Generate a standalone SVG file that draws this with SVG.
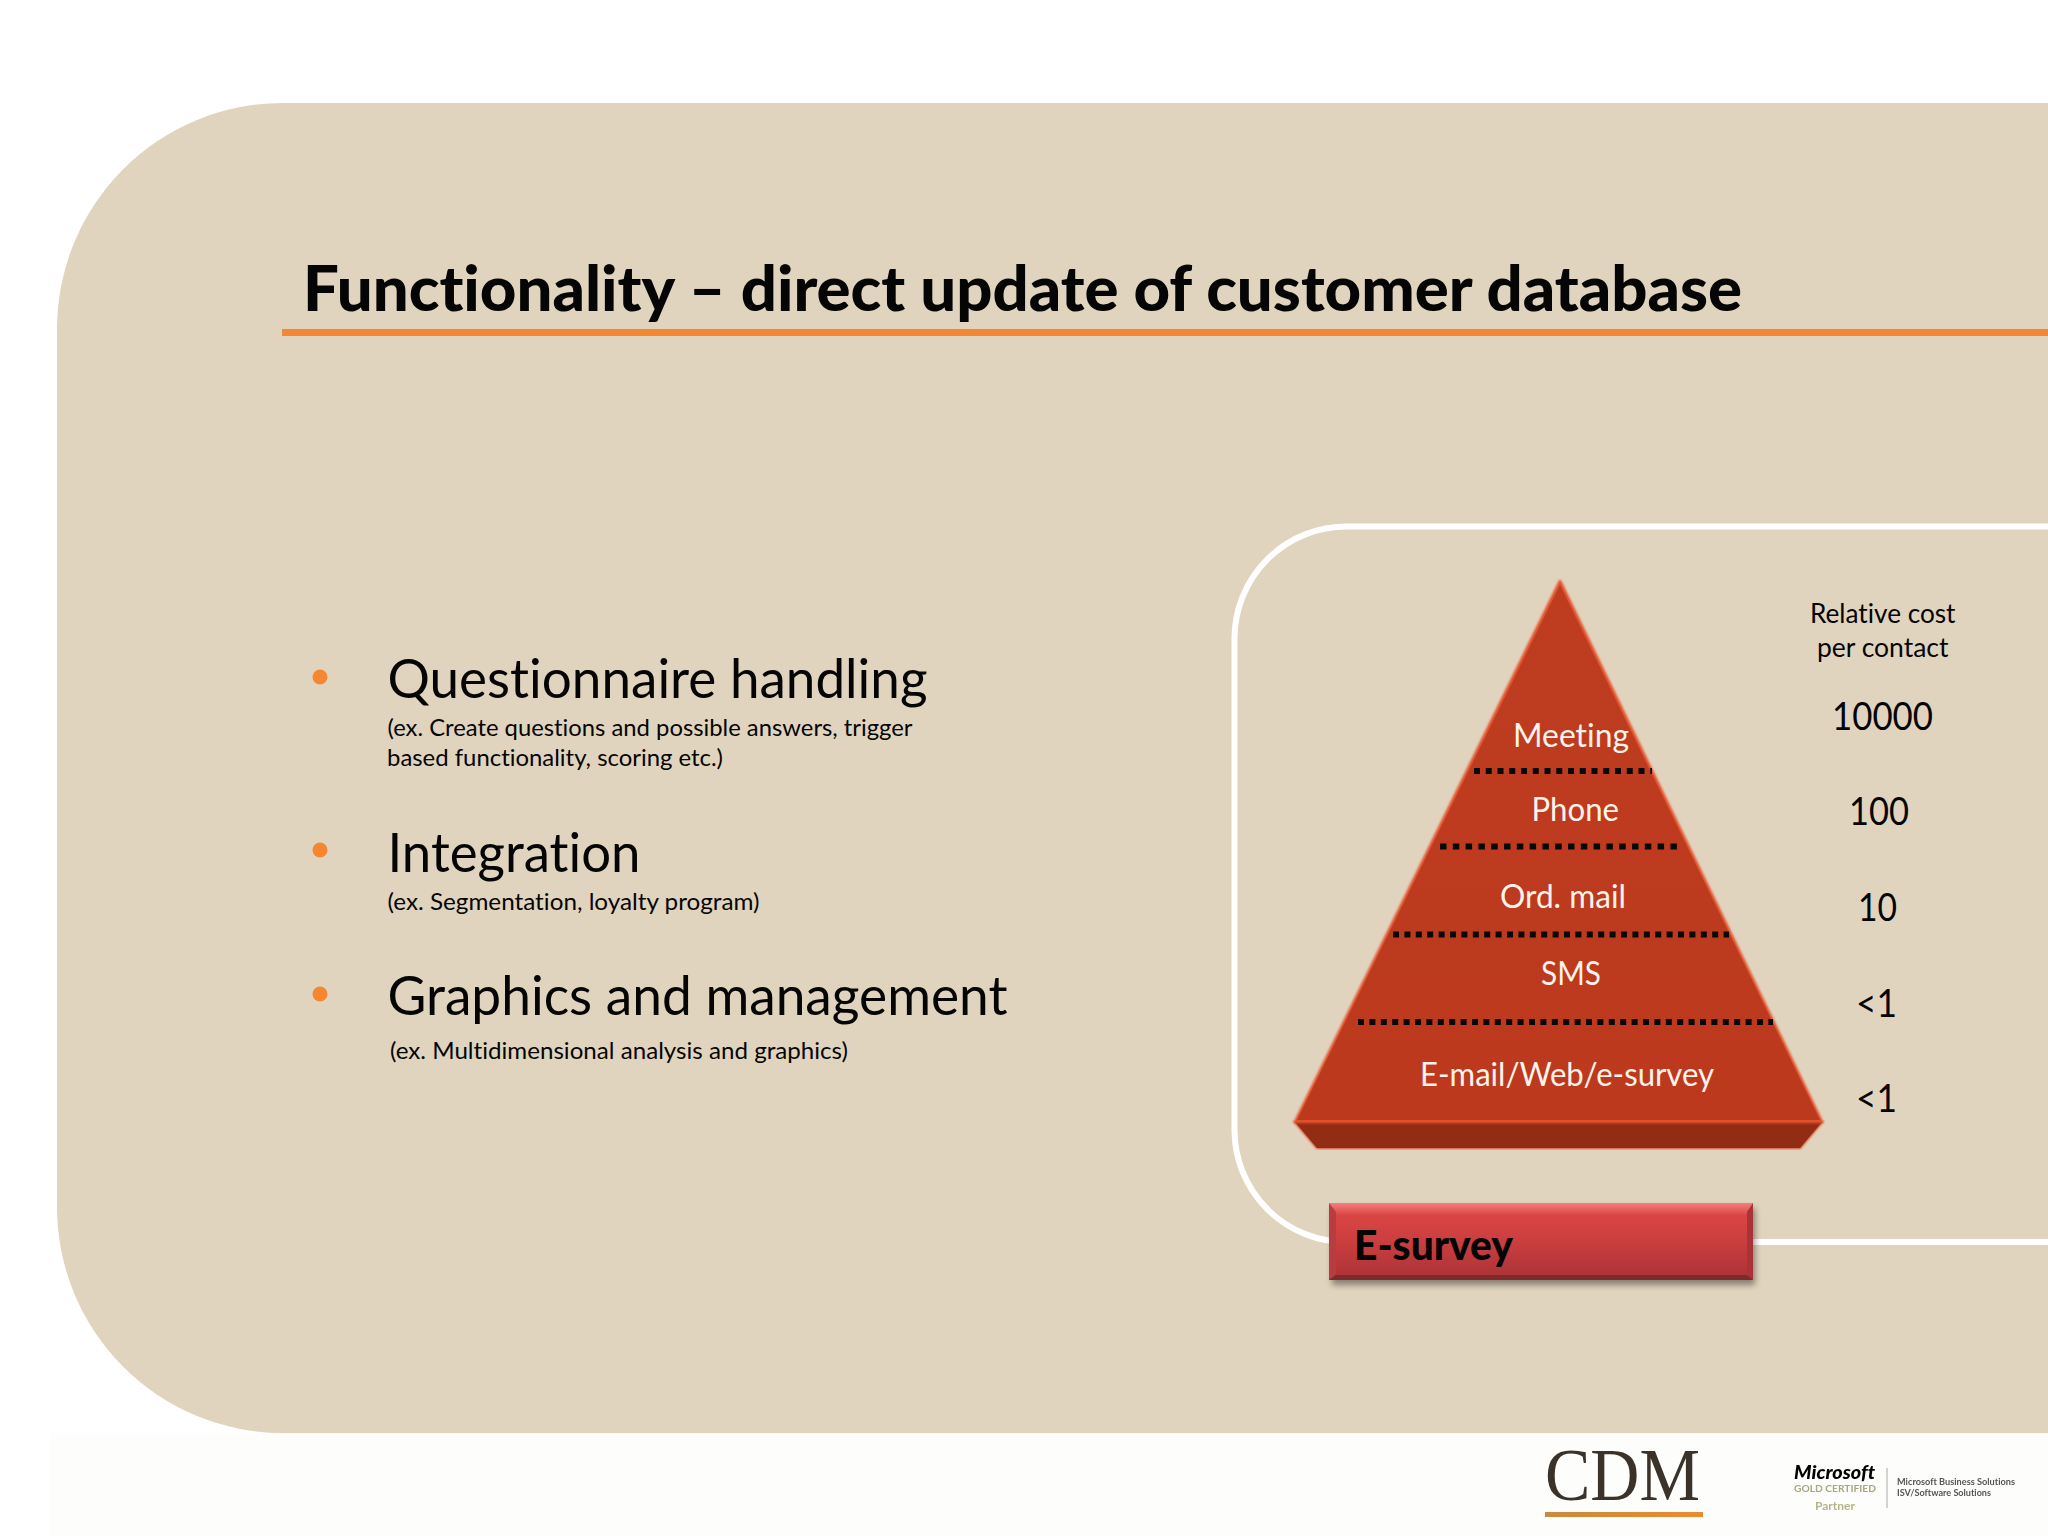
<svg xmlns="http://www.w3.org/2000/svg" width="2048" height="1536" viewBox="0 0 2048 1536">
<defs>
<style>
text{font-family:Lato,Carlito,"Open Sans",sans-serif;fill:#050505;font-variant-ligatures:none}
.main{font-size:54px}
.sub{font-size:24px}
.lab{font-size:32px;fill:#fbf3ea}
.cost{font-size:26px}
.num{font-size:38px}
.dots{stroke:#080808;stroke-width:6;fill:none}
.bul{fill:#F58733}
</style>
<linearGradient id="pyr" x1="0" y1="0" x2="0" y2="1"><stop offset="0" stop-color="#BE3C1F"/><stop offset="1" stop-color="#BC391D"/></linearGradient>
<linearGradient id="btn" x1="0" y1="0" x2="0" y2="1"><stop offset="0" stop-color="#F47F7E"/><stop offset=".16" stop-color="#D94543"/><stop offset=".5" stop-color="#CB3E3F"/><stop offset="1" stop-color="#A93236"/></linearGradient>
<linearGradient id="ul" x1="0" y1="0" x2="1" y2="0"><stop offset="0" stop-color="#C98A3C"/><stop offset="1" stop-color="#EE8A2E"/></linearGradient>
<filter id="sh" x="-5%" y="-10%" width="110%" height="125%"><feGaussianBlur stdDeviation="3"/></filter>
<filter id="soft" x="-5%" y="-10%" width="110%" height="120%"><feGaussianBlur stdDeviation="0.6"/></filter>
<filter id="glow" x="-5%" y="-5%" width="110%" height="110%"><feGaussianBlur stdDeviation="1"/></filter>
</defs>
<rect width="2048" height="1536" fill="#fff"/>
<rect x="50" y="1433" width="1998" height="103" fill="#FDFDFC"/>
<g id="panel"><path d="M2048 103H283A226 226 0 0 0 57 329V1207A226 226 0 0 0 283 1433H2048Z" fill="#E1D4BE"/></g>
<g id="title">
<text x="303" y="311" font-size="63" font-weight="900" textLength="1439" lengthAdjust="spacingAndGlyphs">Functionality – direct update of customer database</text>
<rect x="282" y="329" width="1766" height="7" fill="#F58733"/>
</g>
<g id="item-questionnaire">
<circle class="bul" cx="320" cy="677" r="7.5"/>
<text class="main" x="387.5" y="697.5" textLength="540" lengthAdjust="spacingAndGlyphs">Questionnaire handling</text>
<text class="sub" x="387.5" y="736" textLength="525" lengthAdjust="spacingAndGlyphs">(ex. Create questions and possible answers, trigger</text>
<text class="sub" x="387" y="766" textLength="336" lengthAdjust="spacingAndGlyphs">based functionality, scoring etc.)</text>
</g>
<g id="item-integration">
<circle class="bul" cx="320" cy="850" r="7.5"/>
<text class="main" x="387.5" y="871.5" textLength="253" lengthAdjust="spacingAndGlyphs">Integration</text>
<text class="sub" x="387.5" y="910" textLength="372" lengthAdjust="spacingAndGlyphs">(ex. Segmentation, loyalty program)</text>
</g>
<g id="item-graphics">
<circle class="bul" cx="320" cy="994" r="7.5"/>
<text class="main" x="387.5" y="1014.5" textLength="620" lengthAdjust="spacingAndGlyphs">Graphics and management</text>
<text class="sub" x="390" y="1059" textLength="458" lengthAdjust="spacingAndGlyphs">(ex. Multidimensional analysis and graphics)</text>
</g>
<g id="frame"><rect x="1234.5" y="526.5" width="1000" height="715.5" rx="112" ry="112" fill="none" stroke="#fff" stroke-width="6"/></g>
<g id="pyramid">
<path d="M1295 1122L1317 1148H1800L1822 1122Z" fill="#922C13" stroke="#DB4E2C" stroke-width="2" filter="url(#glow)"/>
<path d="M1295 1122L1317 1148H1800L1822 1122Z" fill="#922C13"/>
<path d="M1560 581L1822 1122H1295Z" fill="#E2502C" stroke="#E2502C" stroke-width="2.5" stroke-linejoin="round" filter="url(#glow)"/>
<path d="M1560 585L1820 1120H1297Z" fill="url(#pyr)" stroke-linejoin="round"/>
</g>
<g id="dividers">
<path class="dots" stroke-dasharray="6 5.75" d="M1474 771H1652"/>
<path class="dots" stroke-dasharray="6.5 6.3" d="M1440 846.5H1677"/>
<path class="dots" stroke-dasharray="6 5.4" d="M1393 934.5H1729"/>
<path class="dots" stroke-dasharray="6 5.4" d="M1358 1022H1773"/>
</g>
<g id="pyramid-labels">
<text class="lab" x="1513" y="746.5" textLength="116" lengthAdjust="spacingAndGlyphs">Meeting</text>
<text class="lab" x="1531.5" y="821" textLength="87.5" lengthAdjust="spacingAndGlyphs">Phone</text>
<text class="lab" x="1500" y="907.5" textLength="126" lengthAdjust="spacingAndGlyphs">Ord. mail</text>
<text class="lab" x="1541" y="985" textLength="60" lengthAdjust="spacingAndGlyphs">SMS</text>
<text class="lab" x="1420" y="1085.5" textLength="294" lengthAdjust="spacingAndGlyphs">E-mail/Web/e-survey</text>
</g>
<g id="costs">
<text class="cost" x="1810" y="622.5" textLength="145.5" lengthAdjust="spacingAndGlyphs">Relative cost</text>
<text class="cost" x="1817" y="656.5" textLength="131.5" lengthAdjust="spacingAndGlyphs">per contact</text>
<text class="num" x="1832" y="729.5" textLength="101" lengthAdjust="spacingAndGlyphs">10000</text>
<text class="num" x="1849" y="825" textLength="60" lengthAdjust="spacingAndGlyphs">100</text>
<text class="num" x="1858" y="921" textLength="39" lengthAdjust="spacingAndGlyphs">10</text>
<text class="num" x="1856" y="1016.5" textLength="41" lengthAdjust="spacingAndGlyphs">&lt;1</text>
<text class="num" x="1856" y="1112" textLength="41" lengthAdjust="spacingAndGlyphs">&lt;1</text>
</g>
<g id="e-survey">
<rect x="1332" y="1208" width="423" height="77" fill="#000" opacity=".4" filter="url(#sh)"/>
<rect x="1329" y="1203" width="424" height="77" fill="url(#btn)"/>
<path d="M1329 1203L1336 1212V1274L1329 1280Z" fill="#B93D40"/>
<path d="M1753 1203L1747 1212V1274L1753 1280Z" fill="#A93336"/>
<path d="M1329 1280L1336 1275H1747L1753 1280Z" fill="#7C2A2C"/>
<text x="1354" y="1259.5" font-size="41" font-weight="900" textLength="159" lengthAdjust="spacingAndGlyphs">E-survey</text>
</g>
<g id="logo-cdm">
<text x="1545" y="1500" font-size="73" textLength="155" lengthAdjust="spacingAndGlyphs" style="font-family:'Liberation Serif',serif;fill:#3A3229" filter="url(#soft)">CDM</text>
<rect x="1545" y="1512" width="158" height="5" fill="url(#ul)" filter="url(#soft)"/>
</g>
<g id="logo-microsoft" filter="url(#soft)">
<text x="1794" y="1479" font-size="18" font-weight="900" font-style="italic" textLength="81" lengthAdjust="spacingAndGlyphs">Microsoft</text>
<text x="1794" y="1492" font-size="10" font-weight="700" textLength="82" lengthAdjust="spacingAndGlyphs" style="fill:#A9A77E">GOLD CERTIFIED</text>
<text x="1815" y="1510" font-size="11" font-weight="700" textLength="40" lengthAdjust="spacingAndGlyphs" style="fill:#B5B58A">Partner</text>
<path d="M1887 1468V1508" stroke="#AAA" stroke-width="1"/>
<text x="1897" y="1485" font-size="8.5" font-weight="700" textLength="118" lengthAdjust="spacingAndGlyphs" style="fill:#555">Microsoft Business Solutions</text>
<text x="1897" y="1496" font-size="8.5" font-weight="700" textLength="94" lengthAdjust="spacingAndGlyphs" style="fill:#555">ISV/Software Solutions</text>
</g>
</svg>
